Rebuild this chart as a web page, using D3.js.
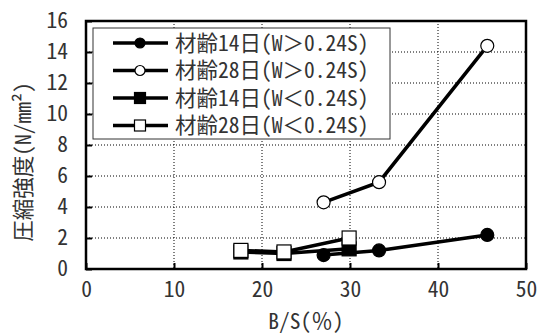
<!DOCTYPE html>
<html>
<head>
<meta charset="utf-8">
<script src="https://cdn.jsdelivr.net/npm/d3@7"></script>
<style>
  body { margin: 0; background: #fff; }
</style>
</head>
<body>
<div id="chart"></div>
<script>
// data
const seriesNames = [
    "材齢14日(W＞0.24S)",
    "材齢28日(W＞0.24S)",
    "材齢14日(W＜0.24S)",
    "材齢28日(W＜0.24S)"
];
const bsHigh = [27.0, 33.3, 45.6];
const day14High = [0.9, 1.2, 2.2];
const day28High = [4.3, 5.6, 14.4];
const bsLow = [17.6, 22.5, 29.9];
const day14Low = [1.1, 1.0, 1.3];
const day28Low = [1.2, 1.1, 2.0];
const xTicks = [0, 10, 20, 30, 40, 50];
const yTicks = [0, 2, 4, 6, 8, 10, 12, 14, 16];

const series = [
    { name: seriesNames[0], xs: bsHigh, ys: day14High, shape: "circle", fill: "#000" },
    { name: seriesNames[1], xs: bsHigh, ys: day28High, shape: "circle", fill: "#fff" },
    { name: seriesNames[2], xs: bsLow, ys: day14Low, shape: "square", fill: "#000" },
    { name: seriesNames[3], xs: bsLow, ys: day28Low, shape: "square", fill: "#fff" }
];

const W = 541, H = 334;
const margin = { top: 21, right: 15, bottom: 65, left: 86 };
const width = W - margin.left - margin.right;
const height = H - margin.top - margin.bottom;
const font = "'Noto Sans Mono CJK JP', 'Noto Sans CJK JP', 'DejaVu Sans Mono', monospace";
const fs = "21.5px";
const ink = "#333";

const svg = d3.select("#chart")
    .append("svg")
    .attr("width", W)
    .attr("height", H)
    .style("font-family", font);

const g = svg.append("g")
    .attr("transform", `translate(${margin.left},${margin.top})`);

const x = d3.scaleLinear().domain([0, 50]).range([0, width]);
const y = d3.scaleLinear().domain([0, 16]).range([height, 0]);

// dotted grid
g.append("g")
    .selectAll("line")
    .data(xTicks.slice(1, -1))
    .enter()
    .append("line")
    .attr("x1", d => x(d)).attr("x2", d => x(d))
    .attr("y1", 0).attr("y2", height)
    .attr("stroke", "#000")
    .attr("stroke-width", 1)
    .attr("stroke-dasharray", "1,2");

g.append("g")
    .selectAll("line")
    .data(yTicks.slice(1, -1))
    .enter()
    .append("line")
    .attr("x1", 0).attr("x2", width)
    .attr("y1", d => y(d)).attr("y2", d => y(d))
    .attr("stroke", "#000")
    .attr("stroke-width", 1)
    .attr("stroke-dasharray", "1,2");

// axes, ticks pointing inward
const xAxis = g.append("g")
    .attr("transform", `translate(0,${height})`)
    .call(d3.axisBottom(x).tickValues(xTicks).tickSize(-6).tickPadding(13));
const yAxis = g.append("g")
    .call(d3.axisLeft(y).tickValues(yTicks).tickSize(-6).tickPadding(18));

[xAxis, yAxis].forEach(a => {
    a.select(".domain").remove();
    a.selectAll("line").attr("stroke", "#000").attr("stroke-width", 2);
    a.selectAll("text")
        .style("font-family", font)
        .style("font-size", fs)
        .attr("fill", ink);
});

// frame
g.append("rect")
    .attr("x", 0).attr("y", 0)
    .attr("width", width).attr("height", height)
    .attr("fill", "none")
    .attr("stroke", "#000")
    .attr("stroke-width", 2.5);

// lines + markers
const line = d3.line().x(d => x(d[0])).y(d => y(d[1]));

function drawMarker(sel, shape, fill, r) {
    if (shape === "circle") {
        sel.append("circle")
            .attr("r", r)
            .attr("fill", fill)
            .attr("stroke", "#000")
            .attr("stroke-width", 1.2);
    } else {
        sel.append("rect")
            .attr("x", -r).attr("y", -r)
            .attr("width", 2 * r).attr("height", 2 * r)
            .attr("fill", fill)
            .attr("stroke", "#000")
            .attr("stroke-width", 1.2);
    }
}

[2, 0, 1, 3].forEach(i => {
    const s = series[i];
    const pts = s.xs.map((v, j) => [v, s.ys[j]]);
    g.append("path")
        .datum(pts)
        .attr("d", line)
        .attr("fill", "none")
        .attr("stroke", "#000")
        .attr("stroke-width", 3.5);
    pts.forEach(p => {
        const m = g.append("g").attr("transform", `translate(${x(p[0])},${y(p[1])})`);
        drawMarker(m, s.shape, s.fill, s.shape === "circle" ? 6.5 : 7);
    });
});

// legend
const legend = svg.append("g").attr("transform", "translate(93,28)");
legend.append("rect")
    .attr("x", 0).attr("y", 0)
    .attr("width", 297).attr("height", 111)
    .attr("fill", "#fff")
    .attr("stroke", "#333")
    .attr("stroke-width", 1);

series.forEach((s, i) => {
    const row = legend.append("g").attr("transform", `translate(0,${15 + i * 27.5})`);
    row.append("line")
        .attr("x1", 20).attr("x2", 75)
        .attr("y1", 0).attr("y2", 0)
        .attr("stroke", "#000")
        .attr("stroke-width", 3.5);
    const m = row.append("g").attr("transform", "translate(47,0)");
    drawMarker(m, s.shape, s.fill, s.shape === "circle" ? 5 : 5.5);
    row.append("text")
        .attr("x", 82)
        .attr("y", 0)
        .attr("dy", "0.36em")
        .style("font-size", fs)
        .attr("fill", ink)
        .text(s.name);
});

// axis titles
svg.append("text")
    .attr("x", margin.left + width / 2)
    .attr("y", 329)
    .attr("text-anchor", "middle")
    .style("font-size", fs)
    .attr("fill", ink)
    .text("B/S(％)");

svg.append("text")
    .attr("transform", `translate(23,162) rotate(-90)`)
    .attr("text-anchor", "middle")
    .attr("dy", "0.36em")
    .style("font-size", fs)
    .attr("fill", ink)
    .text("圧縮強度(N/mm²)");
</script>
</body>
</html>
